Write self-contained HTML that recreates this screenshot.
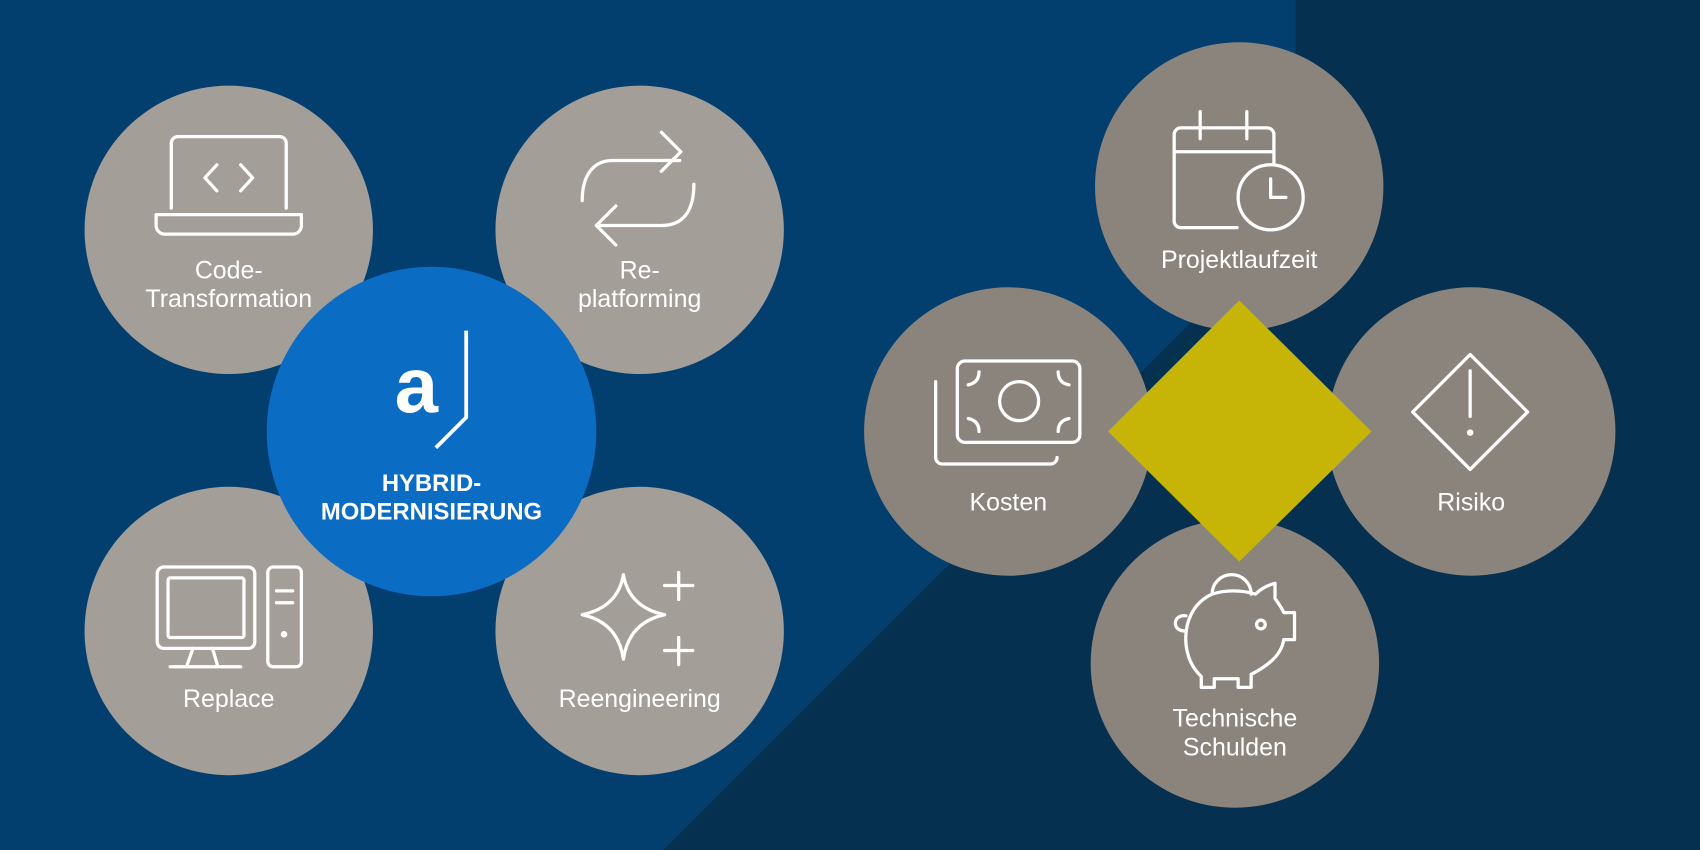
<!DOCTYPE html>
<html><head><meta charset="utf-8"><style>html,body{margin:0;padding:0;background:#033f6e}svg{display:block}text{font-family:"Liberation Sans Narrow","Liberation Sans",sans-serif;fill:#fff;text-anchor:middle}</style></head>
<body>
<svg width="1700" height="850" viewBox="0 0 1568 784" xmlns="http://www.w3.org/2000/svg">
<rect width="1568" height="784" fill="#033f6e"/>
<polygon points="1195,0 1568,0 1568,784 612,784 1195,201" fill="#05304f"/>
<g fill="#a49e99">
<circle cx="211" cy="212" r="133"/><circle cx="590" cy="212" r="133"/>
<circle cx="211" cy="582" r="133"/><circle cx="590" cy="582" r="133"/>
</g>
<g fill="#8b847d">
<circle cx="1143" cy="172" r="133"/><circle cx="930" cy="398" r="133"/>
<circle cx="1357" cy="398" r="133"/><circle cx="1139" cy="612" r="133"/>
</g>
<circle cx="398" cy="398" r="152" fill="#0b6cc4"/>
<polygon points="1143,277 1265,398 1143,518 1022,398" fill="#c6b507"/>
<g fill="none" stroke="#fff" stroke-width="3" stroke-linecap="round" stroke-linejoin="round">
<!-- laptop -->
<path d="M158,192 V132 a6,6 0 0 1 6,-6 H258 a6,6 0 0 1 6,6 V192"/>
<path d="M144,198 H278 V208 a8,8 0 0 1 -8,8 H152 a8,8 0 0 1 -8,-8 Z"/>
<path d="M200,152 L189,164 L200,176 M222,152 L233,164 L222,176"/>
<!-- replatforming -->
<path d="M537,185 C537,165 545,148 565,148 H627 M610,122 L628,140 L610,158" transform="translate(0,0)"/>
<path d="M640,170 C640,195 630,208 610,208 H552 M568,190 L550,208 L568,226"/>
<!-- monitor -->
<rect x="145" y="523" width="90" height="75" rx="6"/>
<rect x="155" y="533" width="70" height="55" rx="2"/>
<path d="M178,598 L172,615 M196,598 L201,615 M157,615 H222"/>
<rect x="247" y="523" width="31" height="92" rx="5"/>
<path d="M255,545 H270 M255,556 H270"/>
<circle cx="262" cy="585" r="1.5"/>
<!-- sparkle -->
<path d="M575,530 Q580,560 613,567 Q580,574 575,608 Q570,574 537,567 Q570,560 575,530 Z"/>
<path d="M626,528 V553 M613,540 H639 M626,588 V613 M613,600 H639"/>
<!-- calendar -->
<path d="M1141,210 H1089 a6,6 0 0 1 -6,-6 V124 a6,6 0 0 1 6,-6 H1169 a6,6 0 0 1 6,6 V150"/>
<path d="M1083,140 H1175 M1107,103 V128 M1150,103 V128"/>
<circle cx="1172" cy="182" r="30"/>
<path d="M1172,165 V182 H1186"/>
<!-- money -->
<rect x="883" y="333" width="113" height="75" rx="7"/>
<circle cx="940" cy="370" r="18"/>
<path d="M903,343 q0,10 -10,12 M976,343 q0,10 10,12 M903,398 q0,-10 -10,-12 M976,398 q0,-10 10,-12"/>
<path d="M863,352 V422 a6,6 0 0 0 6,6 H969 a6,6 0 0 0 6,-6"/>
<!-- warning -->
<path d="M1356,327 L1409,380 L1356,433 L1303,380 Z"/>
<path d="M1356,342 V384"/>
<circle cx="1356" cy="399" r="1.5"/>
<!-- piggy -->
<path d="M1118,548 a18,18 0 0 1 36,0"/>
<path d="M1118,548 C1100,556 1092,575 1094,595 C1096,612 1104,620 1108,624 V634 H1120 V626 H1142 V634 H1154 V622 C1168,615 1182,605 1184,590 H1194 V565 H1184 C1182,560 1178,555 1176,552 V538 C1168,540 1162,544 1158,548 C1145,544 1130,544 1118,548 Z"/>
<path d="M1094,568 C1082,566 1080,582 1093,582"/>
<circle cx="1163" cy="576" r="4"/>
<!-- logo -->
<path d="M430,305 V385 L402,413" stroke-width="3.5" stroke-linecap="butt"/>
</g>
<text x="384" y="380" font-size="72" font-weight="bold" style="font-family:'Liberation Sans',sans-serif">a</text>
<g font-size="23">
<text x="211" y="257">Code-</text><text x="211" y="283">Transformation</text>
<text x="590" y="257">Re-</text><text x="590" y="283">platforming</text>
<text x="211" y="652">Replace</text><text x="590" y="652">Reengineering</text>
<text x="1143" y="247">Projektlaufzeit</text>
<text x="930" y="471">Kosten</text><text x="1357" y="471">Risiko</text>
<text x="1139" y="670">Technische</text><text x="1139" y="697">Schulden</text>
</g>
<g font-size="22" font-weight="bold">
<text x="398" y="453">HYBRID-</text><text x="398" y="479">MODERNISIERUNG</text>
</g>
</svg>
</body></html>
